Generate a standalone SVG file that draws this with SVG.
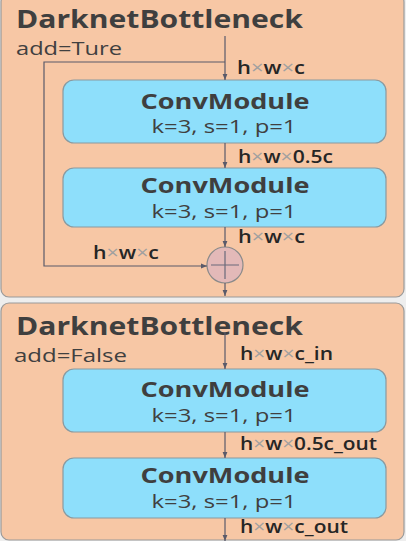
<svg xmlns="http://www.w3.org/2000/svg" width="406" height="541" viewBox="0 0 406 541">
<defs>
<marker id="ah" viewBox="0 0 10 10" refX="10" refY="5" markerWidth="6" markerHeight="6" orient="auto" markerUnits="userSpaceOnUse">
<path d="M0,1 L10,5 L0,9 Z" fill="#5a5a6a"/>
</marker>
<style>
.panel{fill:#F7C7A5;stroke:#9a9a9a;stroke-width:1.2}
.box{fill:#8EDFFB;stroke:#8a9aa0;stroke-width:1.2}
.title{font-family:"Open Sans","Liberation Sans",sans-serif;font-weight:bold;font-size:25px;fill:#3f3f3f}
.sub{font-family:"Open Sans","Liberation Sans",sans-serif;font-size:18px;fill:#404040}
.bt{font-family:"Open Sans","Liberation Sans",sans-serif;font-weight:bold;font-size:22px;fill:#3f3f3f;text-anchor:middle}
.bp{font-family:"Open Sans","Liberation Sans",sans-serif;font-size:19px;fill:#404040;text-anchor:middle}
.lb{font-family:"Open Sans","Liberation Sans",sans-serif;font-size:17.5px;font-weight:600;fill:#262626}
.x{fill:#a0a0a0;font-weight:normal}
.ln{fill:none;stroke:#5a5a6a;stroke-width:1.2}
</style>
</defs>
<rect width="406" height="541" fill="#eeeeee"/>
<g id="panel1">
<rect class="panel" x="1" y="-6" width="403" height="303" rx="8"/>
<text class="title" x="16" y="28" textLength="287" lengthAdjust="spacingAndGlyphs">DarknetBottleneck</text>
<text class="sub" x="16" y="55" textLength="106" lengthAdjust="spacingAndGlyphs">add=Ture</text>
</g>
<g id="panel2">
<rect class="panel" x="1" y="303" width="403" height="237" rx="8"/>
<text class="title" x="16" y="335" textLength="287" lengthAdjust="spacingAndGlyphs">DarknetBottleneck</text>
<text class="sub" x="14" y="362" textLength="113" lengthAdjust="spacingAndGlyphs">add=False</text>
</g>
<g id="conv1">
<rect class="box" x="63" y="80" width="323" height="63" rx="11"/>
<text class="bt" x="225" y="109" textLength="169" lengthAdjust="spacingAndGlyphs">ConvModule</text>
<text class="bp" x="224" y="133" textLength="145" lengthAdjust="spacingAndGlyphs">k=3, s=1, p=1</text>
</g>
<g id="conv2">
<rect class="box" x="63" y="168" width="323" height="59" rx="11"/>
<text class="bt" x="225" y="193" textLength="169" lengthAdjust="spacingAndGlyphs">ConvModule</text>
<text class="bp" x="224" y="218" textLength="145" lengthAdjust="spacingAndGlyphs">k=3, s=1, p=1</text>
</g>
<g id="add">
<circle cx="225" cy="265" r="18" fill="#E3B9B8" stroke="#8a8a8a" stroke-width="1.2"/>
<path d="M211,265 H239 M225,251 V279" stroke="#6a6a7a" stroke-width="1.2"/>
</g>
<g id="conv3">
<rect class="box" x="63" y="369" width="323" height="63" rx="11"/>
<text class="bt" x="225" y="397" textLength="169" lengthAdjust="spacingAndGlyphs">ConvModule</text>
<text class="bp" x="224" y="422" textLength="145" lengthAdjust="spacingAndGlyphs">k=3, s=1, p=1</text>
</g>
<g id="conv4">
<rect class="box" x="63" y="458" width="323" height="60" rx="11"/>
<text class="bt" x="225" y="483" textLength="169" lengthAdjust="spacingAndGlyphs">ConvModule</text>
<text class="bp" x="224" y="508" textLength="145" lengthAdjust="spacingAndGlyphs">k=3, s=1, p=1</text>
</g>
<g id="connectors">
<path class="ln" d="M225,36 V80" marker-end="url(#ah)"/>
<path class="ln" d="M225,62 H44 V266 H207" marker-end="url(#ah)"/>
<path class="ln" d="M225,143 V168" marker-end="url(#ah)"/>
<path class="ln" d="M225,227 V247" marker-end="url(#ah)"/>
<path class="ln" d="M225,283 V296" marker-end="url(#ah)"/>
<path class="ln" d="M225,332 V369" marker-end="url(#ah)"/>
<path class="ln" d="M225,432 V458" marker-end="url(#ah)"/>
<path class="ln" d="M225,518 V541" marker-end="url(#ah)"/>
<text class="lb" x="237" y="74" textLength="68" lengthAdjust="spacingAndGlyphs">h<tspan class="x">×</tspan>w<tspan class="x">×</tspan>c</text>
<text class="lb" x="238" y="163" textLength="95" lengthAdjust="spacingAndGlyphs">h<tspan class="x">×</tspan>w<tspan class="x">×</tspan>0.5c</text>
<text class="lb" x="238" y="243" textLength="67" lengthAdjust="spacingAndGlyphs">h<tspan class="x">×</tspan>w<tspan class="x">×</tspan>c</text>
<text class="lb" x="93" y="259" textLength="66" lengthAdjust="spacingAndGlyphs">h<tspan class="x">×</tspan>w<tspan class="x">×</tspan>c</text>
<text class="lb" x="240" y="360" textLength="93" lengthAdjust="spacingAndGlyphs">h<tspan class="x">×</tspan>w<tspan class="x">×</tspan>c_in</text>
<text class="lb" x="240" y="450" textLength="137" lengthAdjust="spacingAndGlyphs">h<tspan class="x">×</tspan>w<tspan class="x">×</tspan>0.5c_out</text>
<text class="lb" x="240" y="533" textLength="108" lengthAdjust="spacingAndGlyphs">h<tspan class="x">×</tspan>w<tspan class="x">×</tspan>c_out</text>
</g>
</svg>
